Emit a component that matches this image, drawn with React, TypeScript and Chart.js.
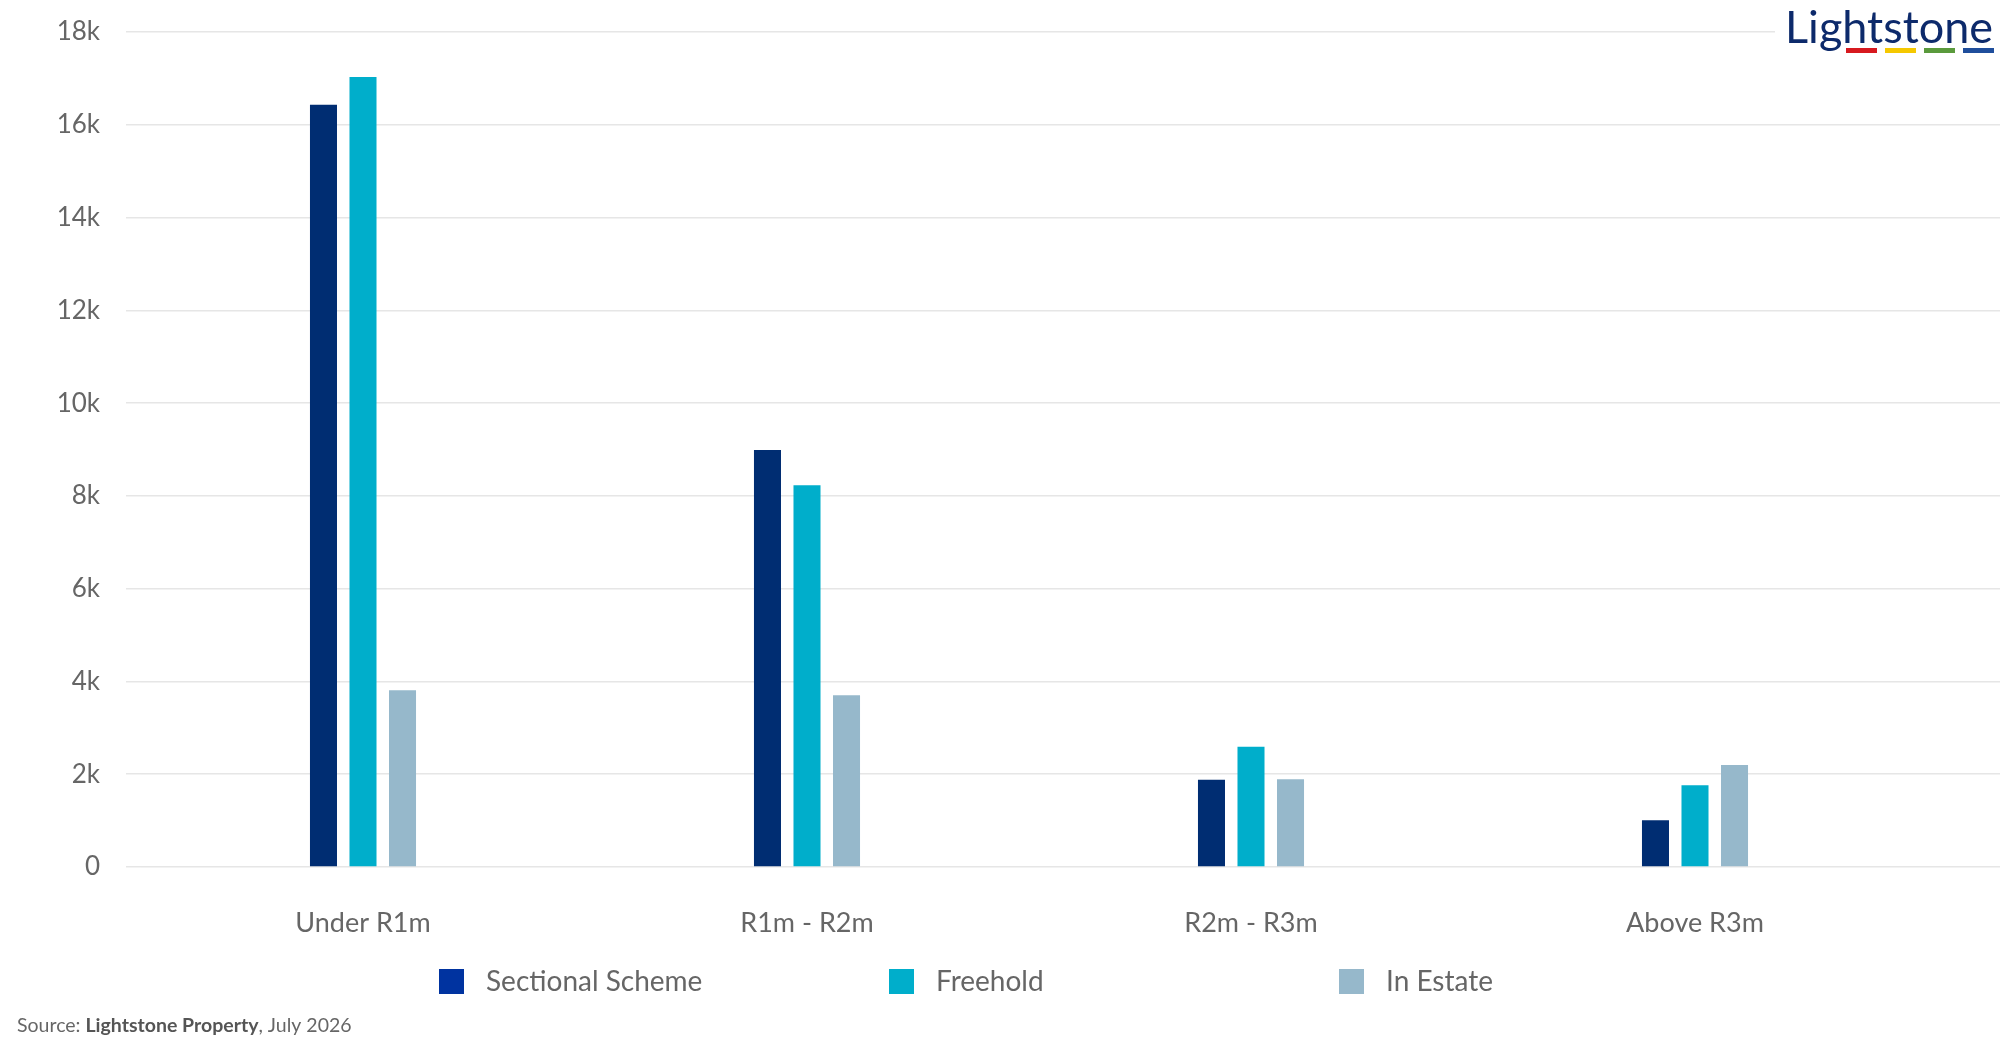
import { useEffect, useRef } from 'react';
import { Chart, registerables } from 'chart.js';

Chart.register(...registerables);

const categories = ['Under R1m', 'R1m - R2m', 'R2m - R3m', 'Above R3m'];
const sectionalScheme = [16430, 8990, 1880, 1010];
const freehold = [17030, 8230, 2590, 1760];
const inEstate = [3810, 3700, 1890, 2200];

const seriesNames = ['Sectional Scheme', 'Freehold', 'In Estate'];
const barColors = ['#002d72', '#00aecb', '#96b8cb'];
const legendColors = ['#0033a0', '#00aecb', '#96b8cb'];
const logoBarColors = ['#d7191f', '#f5c800', '#5a9a3c', '#1f4e9c'];

const FONT = 'Lato, "Noto Sans", sans-serif';
const TEXT = '#666666';
const GRID = '#e6e6e6';

// legend, source line and logo drawn straight onto the canvas
const overlay = {
  id: 'overlay',
  afterDraw(chart: Chart) {
    const ctx = chart.ctx;
    ctx.save();

    ctx.textBaseline = 'middle';
    ctx.font = `28px ${FONT}`;
    seriesNames.forEach((name, i) => {
      const x = 439 + i * 450;
      ctx.fillStyle = legendColors[i];
      ctx.fillRect(x, 969, 25, 25);
      ctx.fillStyle = TEXT;
      ctx.textAlign = 'left';
      ctx.fillText(name, x + 47, 982);
    });

    // source
    let sx = 17;
    const parts: [string, string][] = [
      ['Source: ', 'normal'],
      ['Lightstone Property', 'bold'],
      [', July 2026', 'normal'],
    ];
    parts.forEach(([txt, weight]) => {
      ctx.font = `${weight} 19.5px ${FONT}`;
      ctx.fillStyle = weight === 'bold' ? '#555555' : TEXT;
      ctx.fillText(txt, sx, 1026);
      sx += ctx.measureText(txt).width;
    });

    // logo
    ctx.fillStyle = '#ffffff';
    ctx.fillRect(1775, 0, 225, 60);
    ctx.fillStyle = '#0d2a6b';
    ctx.font = `45px ${FONT}`;
    ctx.textAlign = 'right';
    ctx.textBaseline = 'alphabetic';
    ctx.fillText('Lightstone', 1993, 43, 208);
    logoBarColors.forEach((c, i) => {
      ctx.fillStyle = c;
      ctx.fillRect(1846 + i * 39, 48, 31, 5);
    });

    ctx.restore();
  },
};

export default function App() {
  const canvasRef = useRef<HTMLCanvasElement>(null);
  const chartRef = useRef<Chart | null>(null);

  useEffect(() => {
    document.body.style.margin = '0';
    if (!canvasRef.current) return;
    if (chartRef.current) chartRef.current.destroy();

    const yScaleBase = {
      min: 0,
      max: 18000,
      border: { display: false },
    };

    chartRef.current = new Chart(canvasRef.current, {
      type: 'bar',
      data: {
        labels: categories,
        datasets: [sectionalScheme, freehold, inEstate].map((d, i) => ({
          label: seriesNames[i],
          data: d,
          backgroundColor: barColors[i],
          borderWidth: 0,
          categoryPercentage: 0.267,
          barPercentage: 0.684,
        })),
      },
      options: {
        animation: false,
        responsive: true,
        maintainAspectRatio: false,
        layout: { padding: { top: 32, left: 0, right: 0, bottom: 0 } },
        plugins: {
          legend: { display: false },
          tooltip: { enabled: false },
        },
        scales: {
          x: {
            grid: { display: false },
            border: { display: false },
            ticks: {
              color: TEXT,
              font: { family: FONT, size: 27 },
              padding: 32,
            },
            afterFit: (s: any) => {
              s.height = 183;
            },
          },
          y: {
            ...yScaleBase,
            position: 'left',
            grid: { color: GRID, lineWidth: 1.5, drawTicks: true, tickLength: 15 },
            ticks: {
              stepSize: 2000,
              color: TEXT,
              font: { family: FONT, size: 26 },
              padding: 26,
              callback: (v: any) => (v === 0 ? '0' : `${v / 1000}k`),
            },
            afterFit: (s: any) => {
              s.width = 141;
              s.paddingTop = 0;
              s.paddingBottom = 0;
            },
          },
          y2: {
            ...yScaleBase,
            position: 'right',
            grid: { color: GRID, lineWidth: 1.5, drawOnChartArea: false, drawTicks: true, tickLength: 83 },
            ticks: { stepSize: 2000, display: false },
            afterFit: (s: any) => {
              s.paddingTop = 0;
              s.paddingBottom = 0;
            },
          },
        },
      },
      plugins: [overlay],
    });

    return () => {
      if (chartRef.current) {
        chartRef.current.destroy();
        chartRef.current = null;
      }
    };
  }, []);

  return (
    <div style={{ width: '2000px', height: '1050px', position: 'relative', background: '#fff' }}>
      <canvas ref={canvasRef} />
    </div>
  );
}
